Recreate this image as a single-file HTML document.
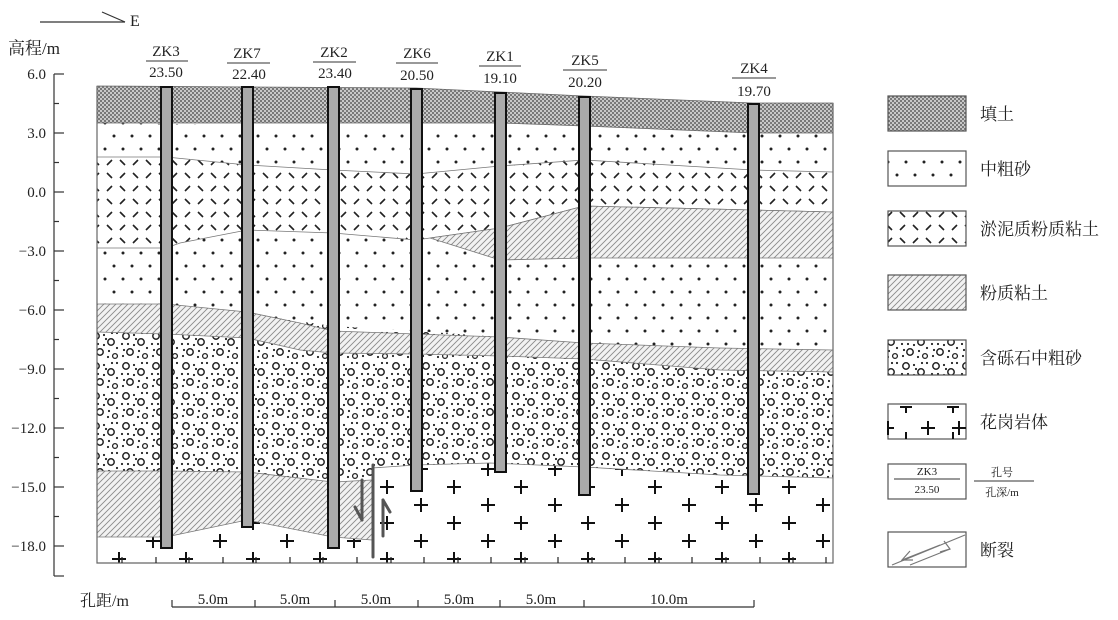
<!DOCTYPE html>
<html><head><meta charset="utf-8"><style>
html,body{margin:0;padding:0;background:#fff}
svg{display:block}
text{font-family:"Liberation Serif","Noto Serif CJK SC",serif;fill:#222}
.cn{font-family:"Liberation Serif","Noto Serif CJK SC","Noto Sans CJK SC",serif}
</style></head><body>
<svg width="1118" height="620" viewBox="0 0 1118 620" xmlns="http://www.w3.org/2000/svg">
<defs>
<pattern id="fill" width="4" height="4" patternUnits="userSpaceOnUse">
<rect width="4" height="4" fill="#c8c8c8"/><rect x="0" y="0" width="2" height="2" fill="#777"/><rect x="2" y="2" width="2" height="2" fill="#7a7a7a"/>
</pattern>
<pattern id="sand" width="36" height="26" patternUnits="userSpaceOnUse">
<rect width="36" height="26" fill="#fff"/>
<circle cx="6" cy="6" r="1.5" fill="#222"/><circle cx="24" cy="6" r="1.5" fill="#222"/>
<circle cx="15" cy="19" r="1.5" fill="#222"/><circle cx="33" cy="19" r="1.5" fill="#222"/>
</pattern>
<pattern id="mud" width="26" height="26" patternUnits="userSpaceOnUse">
<rect width="26" height="26" fill="#fff"/>
<path d="M3 9 L8 4 M16 4 L21 9 M3 17 L8 22 M16 22 L21 17" stroke="#222" stroke-width="1.6"/>
</pattern>
<pattern id="clay" width="6" height="6" patternUnits="userSpaceOnUse">
<rect width="6" height="6" fill="#f2f2f2"/>
<path d="M-1 7 L7 -1 M-1 1 L1 -1 M5 7 L7 5" stroke="#8a8a8a" stroke-width="0.9"/>
</pattern>
<pattern id="grav" width="30" height="30" patternUnits="userSpaceOnUse">
<rect width="30" height="30" fill="#fff"/>
<circle cx="6" cy="6" r="3.2" fill="none" stroke="#222" stroke-width="1.5"/>
<circle cx="21" cy="12" r="3.2" fill="none" stroke="#222" stroke-width="1.5"/>
<circle cx="10" cy="22" r="3.2" fill="none" stroke="#222" stroke-width="1.5"/>
<circle cx="25" cy="26" r="2.4" fill="none" stroke="#222" stroke-width="1.3"/>
<g fill="#222"><circle cx="14" cy="5" r="1.1"/><circle cx="16" cy="9" r="1.1"/><circle cx="2" cy="14" r="1.1"/><circle cx="8" cy="14" r="1.1"/><circle cx="14" cy="15" r="1.1"/><circle cx="27" cy="3" r="1.1"/><circle cx="27" cy="18" r="1.1"/><circle cx="19" cy="21" r="1.1"/><circle cx="3" cy="26" r="1.1"/><circle cx="18" cy="27" r="1.1"/><circle cx="22" cy="3" r="1.1"/><circle cx="4" cy="20" r="1.1"/></g>
</pattern>
<pattern id="gran" width="67" height="36" patternUnits="userSpaceOnUse" x="0" y="460">
<rect width="67" height="36" fill="#fff"/>
<path d="M12 9 h14 M19 2 v14 M45 27 h14 M52 20 v14" stroke="#111" stroke-width="2"/>
</pattern>
</defs>

<line x1="40" y1="22" x2="125" y2="22" stroke="#333" stroke-width="1.2"/>
<line x1="102" y1="12" x2="125" y2="22" stroke="#333" stroke-width="1.2"/>
<text x="130" y="26" font-size="16">E</text>

<text x="8" y="54" font-size="17" class="cn">高程/m</text>
<line x1="54" y1="74" x2="54" y2="576" stroke="#333" stroke-width="1.2"/>
<g stroke="#333" stroke-width="1.2">
<line x1="54" y1="74" x2="64" y2="74"/><line x1="54" y1="103.5" x2="59" y2="103.5"/>
<line x1="54" y1="133" x2="64" y2="133"/><line x1="54" y1="162.5" x2="59" y2="162.5"/>
<line x1="54" y1="192" x2="64" y2="192"/><line x1="54" y1="221.5" x2="59" y2="221.5"/>
<line x1="54" y1="251" x2="64" y2="251"/><line x1="54" y1="280.5" x2="59" y2="280.5"/>
<line x1="54" y1="310" x2="64" y2="310"/><line x1="54" y1="339.5" x2="59" y2="339.5"/>
<line x1="54" y1="369" x2="64" y2="369"/><line x1="54" y1="398.5" x2="59" y2="398.5"/>
<line x1="54" y1="428" x2="64" y2="428"/><line x1="54" y1="457.5" x2="59" y2="457.5"/>
<line x1="54" y1="487" x2="64" y2="487"/><line x1="54" y1="516.5" x2="59" y2="516.5"/>
<line x1="54" y1="546" x2="64" y2="546"/><line x1="54" y1="576" x2="64" y2="576"/>
</g>
<g font-size="15" text-anchor="end">
<text x="46" y="79">6.0</text><text x="46" y="138">3.0</text><text x="46" y="197">0.0</text>
<text x="46" y="256">−3.0</text><text x="46" y="315">−6.0</text><text x="46" y="374">−9.0</text>
<text x="46" y="433">−12.0</text><text x="46" y="492">−15.0</text><text x="46" y="551">−18.0</text>
</g>

<!-- granite -->
<polygon fill="url(#gran)" points="97,460 833,460 833,563 97,563"/>
<!-- sand -->
<polygon fill="url(#sand)" points="97,123 833,133 833,380 97,380"/>
<!-- gravel -->
<polygon fill="url(#grav)" points="97,304 166,307 247,314 333,326 416,331 500,337 584,343 720,348 833,350 833,478 720,475 584,467 490,463 416,465 372,468 372,480 333,482 247,472 166,471 97,471"/>
<polygon fill="url(#clay)" points="97,471 166,471 247,472 333,482 372,480 372,540 333,537 247,520 166,537 97,537"/>
<polygon fill="url(#clay)" stroke="#777" stroke-width="0.8" points="97,304 166,304 247,312 300,323 333,331 416,334 500,337 584,343 720,348 833,350 833,372 720,370 584,359 500,356 416,354 333,353 300,350 247,338 166,334 97,332"/>
<polygon fill="url(#mud)" stroke="#777" stroke-width="0.8" points="97,157 166,157 247,165 333,170 416,174 500,166 584,160 753,170 833,172 833,212 753,210 584,206 500,228 430,238 416,240 333,233 247,230 180,243 166,248 97,248"/>
<polygon fill="url(#clay)" stroke="#777" stroke-width="0.8" points="430,238 500,228 584,206 753,210 833,212 833,258 584,258 500,260"/>
<polygon fill="url(#fill)" stroke="#666" stroke-width="0.8" points="97,86 416,88 500,92 584,96 753,103 833,103 833,133 753,133 584,126 500,123 97,123"/>
<polyline fill="none" stroke="#666" stroke-width="1.2" points="97,86 97,563 833,563 833,103"/>
<polyline fill="none" stroke="#777" stroke-width="0.8" points="97,471 166,471 247,472 333,482 372,480"/>
<polyline fill="none" stroke="#777" stroke-width="0.8" points="97,537 166,537 247,520 333,537 372,540"/>
<polyline fill="none" stroke="#777" stroke-width="0.8" points="372,468 416,465 490,463 584,467 720,475 833,478"/>
<g stroke="#222" stroke-width="1.2">
<line x1="122" y1="557" x2="122" y2="563"/><line x1="156" y1="557" x2="156" y2="563"/><line x1="189" y1="557" x2="189" y2="563"/><line x1="223" y1="557" x2="223" y2="563"/><line x1="256" y1="557" x2="256" y2="563"/><line x1="290" y1="557" x2="290" y2="563"/><line x1="323" y1="557" x2="323" y2="563"/><line x1="357" y1="557" x2="357" y2="563"/><line x1="391" y1="557" x2="391" y2="563"/><line x1="424" y1="557" x2="424" y2="563"/><line x1="458" y1="557" x2="458" y2="563"/><line x1="491" y1="557" x2="491" y2="563"/><line x1="525" y1="557" x2="525" y2="563"/><line x1="558" y1="557" x2="558" y2="563"/><line x1="592" y1="557" x2="592" y2="563"/><line x1="625" y1="557" x2="625" y2="563"/><line x1="659" y1="557" x2="659" y2="563"/><line x1="692" y1="557" x2="692" y2="563"/><line x1="726" y1="557" x2="726" y2="563"/><line x1="760" y1="557" x2="760" y2="563"/><line x1="793" y1="557" x2="793" y2="563"/><line x1="826" y1="557" x2="826" y2="563"/>
</g>

<g fill="#aaa" stroke="#111" stroke-width="2">
<rect x="161" y="87" width="11" height="461"/>
<rect x="242" y="87" width="11" height="440"/>
<rect x="328" y="87" width="11" height="461"/>
<rect x="411" y="89" width="11" height="402"/>
<rect x="495" y="93" width="11" height="379"/>
<rect x="579" y="97" width="11" height="398"/>
<rect x="748" y="104" width="11" height="390"/>
</g>

<g stroke="#555" stroke-width="3" fill="none" stroke-linecap="round">
<line x1="373" y1="465" x2="373" y2="557"/>
<line x1="362" y1="480" x2="362" y2="520"/><line x1="355" y1="507" x2="362" y2="520"/>
<line x1="383" y1="536" x2="383" y2="500"/><line x1="390" y1="512" x2="383" y2="500"/>
</g>

<g font-size="15" text-anchor="middle">
<text x="166" y="56">ZK3</text><line x1="146" y1="61" x2="188" y2="61" stroke="#333"/><text x="166" y="77">23.50</text>
<text x="247" y="58">ZK7</text><line x1="227" y1="63" x2="270" y2="63" stroke="#333"/><text x="249" y="79">22.40</text>
<text x="334" y="57">ZK2</text><line x1="313" y1="62" x2="356" y2="62" stroke="#333"/><text x="335" y="78">23.40</text>
<text x="417" y="58">ZK6</text><line x1="396" y1="63" x2="438" y2="63" stroke="#333"/><text x="417" y="80">20.50</text>
<text x="500" y="61">ZK1</text><line x1="479" y1="66" x2="521" y2="66" stroke="#333"/><text x="500" y="83">19.10</text>
<text x="585" y="65">ZK5</text><line x1="563" y1="70" x2="607" y2="70" stroke="#333"/><text x="585" y="87">20.20</text>
<text x="754" y="73">ZK4</text><line x1="732" y1="78" x2="776" y2="78" stroke="#333"/><text x="754" y="96">19.70</text>
</g>

<text x="80" y="606" font-size="16" class="cn">孔距/m</text>
<g stroke="#333" stroke-width="1.2">
<line x1="172" y1="607" x2="754" y2="607"/>
<line x1="172" y1="600" x2="172" y2="607"/><line x1="255" y1="600" x2="255" y2="607"/><line x1="335" y1="600" x2="335" y2="607"/><line x1="418" y1="600" x2="418" y2="607"/><line x1="500" y1="600" x2="500" y2="607"/><line x1="584" y1="600" x2="584" y2="607"/><line x1="754" y1="600" x2="754" y2="607"/>
</g>
<g font-size="15" text-anchor="middle">
<text x="213" y="604">5.0m</text><text x="295" y="604">5.0m</text><text x="376" y="604">5.0m</text><text x="459" y="604">5.0m</text><text x="541" y="604">5.0m</text><text x="669" y="604">10.0m</text>
</g>

<g stroke="#555" stroke-width="1.2">
<rect x="888" y="96" width="78" height="35" fill="url(#fill)"/>
<rect x="888" y="151" width="78" height="35" fill="url(#sand)"/>
<rect x="888" y="211" width="78" height="35" fill="url(#mud)"/>
<rect x="888" y="275" width="78" height="35" fill="url(#clay)"/>
<rect x="888" y="340" width="78" height="35" fill="url(#grav)"/>
<rect x="888" y="404" width="78" height="35" fill="#fff"/>
<rect x="888" y="464" width="78" height="35" fill="#fff"/>
<rect x="888" y="532" width="78" height="35" fill="#fff"/>
</g>
<g stroke="#111" stroke-width="2">
<path d="M888 428 h6 M888 421 v14 M900 407 h12 M906 407 v6 M921 428 h14 M928 421 v14 M947 407 h12 M953 407 v6 M952 428 h14 M959 421 v14 M906 432 v7 M953 432 v7"/>
</g>
<line x1="894" y1="479" x2="960" y2="479" stroke="#333"/>
<text x="927" y="475" font-size="11" text-anchor="middle">ZK3</text>
<text x="927" y="493" font-size="11" text-anchor="middle">23.50</text>
<line x1="974" y1="481" x2="1034" y2="481" stroke="#333"/>
<text x="1002" y="476" font-size="11" text-anchor="middle" class="cn">孔号</text>
<text x="1002" y="496" font-size="11" text-anchor="middle" class="cn">孔深/m</text>
<g stroke="#777" stroke-width="1.2" fill="none">
<line x1="892" y1="565" x2="965" y2="535"/>
<line x1="902" y1="560" x2="940" y2="545"/>
<line x1="910" y1="565" x2="950" y2="549"/>
<path d="M910 551 L902 560 L913 560"/>
<path d="M940 552 L950 549 L944 541"/>
</g>
<g font-size="17" class="cn">
<text x="980" y="120">填土</text>
<text x="980" y="175">中粗砂</text>
<text x="980" y="235">淤泥质粉质粘土</text>
<text x="980" y="299">粉质粘土</text>
<text x="980" y="364">含砾石中粗砂</text>
<text x="980" y="428">花岗岩体</text>
<text x="980" y="556">断裂</text>
</g>
</svg>
</body></html>
